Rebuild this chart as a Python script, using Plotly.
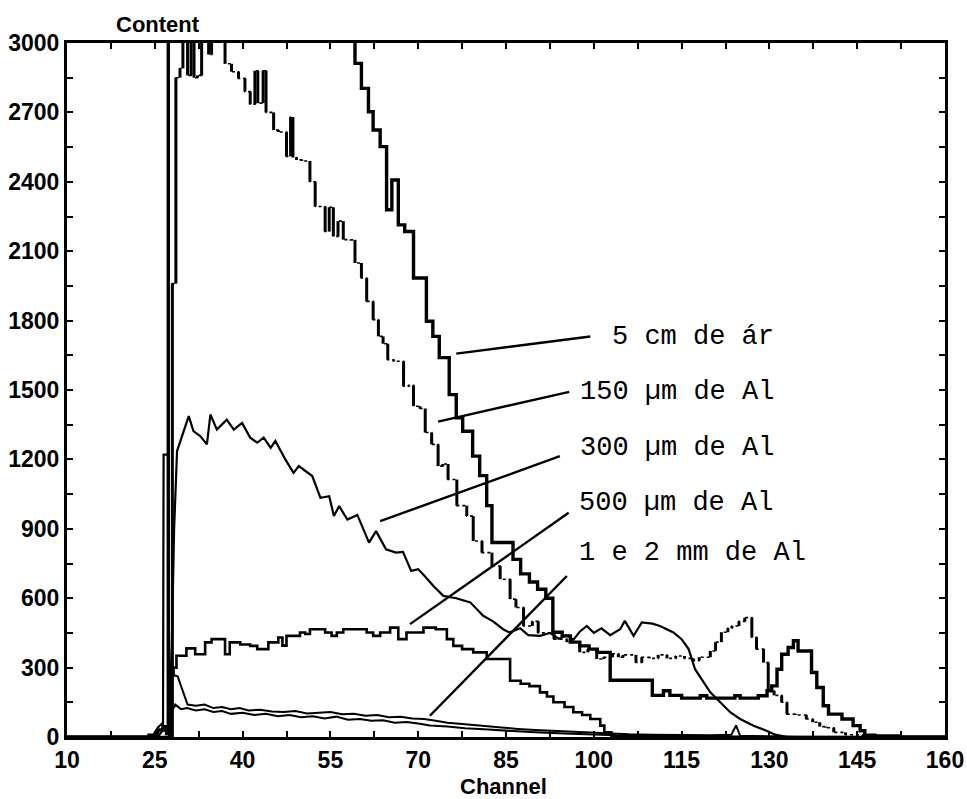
import plotly.graph_objects as go

# ---------------- data ----------------
# 5 cm de ár  (thick step histogram)
air_ch = [10, 24.0, 25.5, 26.4, 27.0, 27.3, 59.2, 60.3, 61.5, 62.3, 63.5, 64.6, 65.5, 66.6, 67.7,
          69.2, 71.4, 72.5, 73.6, 75.3, 76.5, 77.6, 79.3, 80.5, 81.7, 82.6, 86.2, 87.5, 89.0, 90.4,
          91.8, 93.0, 94.6, 96.0, 97.6, 99.2, 100.6, 102.8, 110.0, 111.9, 113.0, 115.0, 118.2, 119.3,
          124.1, 125.0, 128.1, 129.6, 130.4, 131.3, 132.1, 133.2, 134.1, 134.9, 137.2, 138.1, 139.2,
          140.1, 142.4, 144.3, 145.5, 146.3, 148.0, 152.0, 160.0]
air_cnt = [0, 8, 30, 45, 15, 3300, 2912, 2804, 2703, 2624, 2552, 2279, 2408, 2214, 2185,
           1984, 1797, 1732, 1640, 1480, 1380, 1322, 1214, 1130, 1000, 841, 768, 705, 670, 639,
           600, 453, 437, 410, 394, 380, 366, 245, 180, 200, 180, 168, 178, 168,
           178, 168, 178, 200, 221, 293, 358, 387, 416, 372, 279, 214, 135,
           99, 78, 49, 27, 8, 5, 0, 0]

# 150 um de Al (dashed step histogram)
al150_ch = [10, 27.6, 28.0, 28.6, 29.3, 29.8, 30.6, 31.2, 31.7, 32.3, 33.0, 34.2, 34.7, 37.0, 38.1,
            39.3, 40.4, 41.3, 42.1, 42.6, 43.5, 44.0, 45.3, 46.1, 47.5, 48.2, 48.6, 49.2, 50.1, 51.5,
            52.4, 54.1, 54.8, 55.5, 56.3, 57.2, 58.4, 59.2, 60.3, 61.2, 62.3, 63.2, 64.0, 64.8, 65.8,
            67.5, 68.4, 69.2, 70.3, 71.2, 72.3, 73.4, 74.2, 75.1, 76.6, 78.3, 79.4, 80.9, 82.6, 84.0,
            85.7, 86.7, 88.0, 89.5, 90.5, 93.2, 95.4, 97.6, 99.0, 100.5, 101.7, 103.2, 104.2, 105.0,
            107.2, 108.2, 109.5, 111.0, 112.5, 114.0, 115.5, 117.0, 118.0, 119.9, 120.8, 121.8, 122.9,
            123.6, 124.8, 125.8, 127.0, 127.8, 129.0, 129.8, 130.8, 132.1, 133.0, 134.5, 136.3, 137.4,
            138.6, 139.7, 141.0, 143.0, 146.0, 160.0]
al150_cnt = [0, 0, 1960, 2850, 2890, 3100, 2860, 3100, 2850, 2860, 3100, 2950, 3100, 2910, 2876,
             2847, 2790, 2735, 2880, 2740, 2880, 2700, 2624, 2615, 2510, 2680, 2505, 2495, 2490, 2400,
             2293, 2185, 2290, 2164, 2230, 2150, 2149, 2049, 1984, 1883, 1804, 1732, 1700, 1631, 1624,
             1516, 1520, 1430, 1420, 1316, 1265, 1171, 1180, 1113, 1000, 955, 847, 797, 739, 682,
             596, 560, 480, 500, 450, 423, 410, 366, 380, 337, 345, 360, 345, 355,
             322, 345, 340, 355, 340, 350, 340, 330, 345, 372, 410, 453, 470,
             480, 500, 516, 431, 380, 322, 200, 180, 150, 99, 95, 78, 64,
             45, 40, 20, 10, 0, 0]

# 300 um de Al (thin polyline)
al300_ch = [10, 25.5, 26.4, 26.5, 27.3, 27.4, 27.9, 28.3, 28.8, 29.6, 30.8, 31.6, 32.8, 33.9, 34.5,
            35.6, 37.3, 38.5, 39.9, 41.3, 42.5, 43.6, 44.8, 45.6, 47.3, 48.7, 49.6, 51.9, 53.3, 54.8,
            55.6, 56.5, 57.9, 59.6, 61.6, 62.8, 64.5, 66.2, 67.4, 68.8, 70.0, 71.1, 72.6, 74.3, 76.5,
            78.9, 81.1, 82.8, 84.5, 85.6, 87.4, 88.8, 90.8, 92.5, 94.0, 95.4, 96.5, 97.6, 98.8, 100.0,
            101.3, 102.8, 104.5, 105.3, 106.8, 108.2, 110.0, 111.3, 113.6, 115.0, 116.2, 117.3, 118.7,
            119.9, 121.6, 123.3, 125.0, 127.3, 129.5, 131.0, 133.0, 160.0]
al300_cnt = [0, 0, 30, 1221, 1221, 60, 400, 900, 1236, 1300, 1387, 1322, 1300, 1265, 1394,
             1329, 1372, 1329, 1358, 1294, 1272, 1294, 1250, 1280, 1200, 1142, 1171, 1128, 1034, 1041,
             955, 998, 940, 960, 840, 890, 811, 797, 800, 718, 725, 696, 653, 610, 600,
             582, 524, 500, 466, 452, 470, 440, 437, 450, 425, 440, 420, 455, 480, 450,
             470, 440, 466, 502, 437, 495, 490, 480, 452, 423, 380, 293, 236,
             193, 150, 107, 78, 49, 27, 10, 0, 0]

# 500 um de Al (step histogram)
al500_ch = [10, 27.5, 27.9, 28.2, 28.7, 30.4, 31.9, 33.6, 34.7, 37.0, 37.8, 39.6, 41.3, 42.5, 44.4,
            46.1, 46.8, 47.5, 49.8, 50.7, 51.5, 52.4, 54.1, 55.2, 56.1, 57.2, 58.9, 61.2, 62.3, 63.5,
            65.2, 66.6, 68.0, 70.9, 73.0, 74.9, 76.0, 77.5, 79.4, 81.7, 85.7, 87.5, 89.0, 90.8, 92.0,
            93.1, 95.0, 96.5, 98.0, 99.4, 101.1, 101.8, 103.0, 160.0]
al500_cnt = [0, 150, 265, 300, 351, 383, 358, 409, 423, 358, 409, 400, 394, 380, 409,
             430, 395, 437, 452, 445, 466, 466, 452, 437, 452, 466, 466, 452, 437, 452,
             473, 423, 452, 473, 466, 423, 394, 380, 366, 337, 243, 230, 220, 193, 175,
             150, 130, 107, 95, 78, 49, 20, 0, 0]

# 1 mm de Al
al1mm_ch = [10, 24.5, 25.5, 26.3, 27.0, 27.6, 28.0, 28.9, 30.6, 32.0, 33.5, 35.0, 36.5, 38.0, 39.5,
            41.0, 43.0, 45.0, 47.0, 49.0, 51.0, 53.0, 55.0, 57.0, 59.0, 61.0, 63.0, 65.0, 67.0, 69.0,
            71.0, 73.0, 75.0, 78.0, 81.0, 84.0, 87.0, 90.0, 94.0, 98.0, 102.0, 106.0, 110.0, 115.0,
            120.0, 123.5, 124.3, 125.0, 128.0, 135.0, 160.0]
al1mm_cnt = [0, 0, 40, 60, 20, 60, 270, 262, 140, 135, 140, 125, 130, 120, 125,
             115, 118, 110, 108, 112, 102, 105, 108, 98, 100, 92, 95, 85, 88, 80,
             78, 70, 62, 55, 48, 40, 35, 30, 25, 20, 15, 12, 10, 8,
             8, 10, 50, 5, 3, 0, 0]

# 2 mm de Al
al2mm_ch = [10, 27.5, 27.9, 28.5, 29.5, 30.5, 32.0, 33.5, 35.0, 36.5, 38.0, 40.0, 42.0, 44.0, 46.0,
            48.0, 50.0, 52.0, 54.0, 56.0, 58.0, 60.0, 62.0, 64.0, 66.0, 68.0, 70.0, 72.0, 75.0, 78.0,
            82.0, 86.0, 90.0, 95.0, 100.0, 105.0, 110.0, 120.0, 160.0]
al2mm_cnt = [0, 0, 110, 140, 120, 125, 115, 120, 108, 112, 100, 105, 95, 100, 90,
             95, 85, 90, 80, 88, 75, 78, 70, 72, 62, 65, 58, 50, 45, 38,
             32, 25, 20, 15, 10, 6, 4, 2, 0]

# labels and pointer lines (label anchor on the curve, label end)
labels = ["5 cm de ár", "150 µm de Al", "300 µm de Al", "500 µm de Al", "1 e 2 mm de Al"]
label_x = [0.6185, 0.582, 0.582, 0.581, 0.581]          # paper coords (left of text)
label_y = [0.5764, 0.4971, 0.4164, 0.3372, 0.2651]       # paper coords (middle of text)
ptr_x0 = [99.4, 95.8, 94.2, 95.7, 95.4]
ptr_y0 = [1731, 1492, 1214, 969, 696]
ptr_x1 = [76.5, 73.4, 63.5, 68.6, 72.0]
ptr_y1 = [1657, 1363, 933, 488, 92]

x_major = [10, 25, 40, 55, 70, 85, 100, 115, 130, 145, 160]
x_major_text = ["10", "25", "40", "55", "70", "85", "100", "115", "130", "145", "160"]
y_major = [0, 300, 600, 900, 1200, 1500, 1800, 2100, 2400, 2700, 3000]
y_major_text = ["0", "300", "600", "900", "1200", "1500", "1800", "2100", "2400", "2700", "3000"]

for a, b in [(air_ch, air_cnt), (al150_ch, al150_cnt), (al300_ch, al300_cnt),
             (al500_ch, al500_cnt), (al1mm_ch, al1mm_cnt), (al2mm_ch, al2mm_cnt)]:
    assert len(a) == len(b), (len(a), len(b))

# ---------------- figure ----------------
fig = go.Figure()


def add(x, y, width, shape="linear", dash="solid"):
    fig.add_trace(go.Scatter(x=x, y=y, mode="lines", showlegend=False, hoverinfo="skip",
                             line=dict(color="black", width=width, shape=shape, dash=dash)))


add(al2mm_ch, al2mm_cnt, 2)
add(al1mm_ch, al1mm_cnt, 2)
add(al500_ch, al500_cnt, 2.6, shape="hv")
add(al300_ch, al300_cnt, 2.2)
# 150 um: faint dotted horizontals + solid vertical risers
add(al150_ch, al150_cnt, 1.6, shape="hv", dash="dot")
vx, vy = [], []
for i in range(1, len(al150_ch)):
    vx += [al150_ch[i], al150_ch[i], None]
    vy += [al150_cnt[i - 1], al150_cnt[i], None]
add(vx, vy, 3)
add(air_ch, air_cnt, 3.4, shape="hv")

for i in range(len(labels)):
    fig.add_shape(type="line", xref="x", yref="y", x0=ptr_x0[i], y0=ptr_y0[i],
                  x1=ptr_x1[i], y1=ptr_y1[i], line=dict(color="black", width=2.4))
    fig.add_annotation(text=labels[i], xref="paper", yref="paper", x=label_x[i], y=label_y[i],
                       xanchor="left", yanchor="middle", showarrow=False,
                       font=dict(family="Liberation Mono, Courier New, monospace", size=27,
                                 color="black"))

bold_font = "Liberation Sans, Arial, sans-serif"
fig.add_annotation(text="Content", xref="paper", yref="paper", x=0.1036, y=1.026,
                   xanchor="center", yanchor="middle", showarrow=False,
                   font=dict(family=bold_font, size=22, color="black", weight="bold"))
fig.add_annotation(text="Channel", xref="paper", yref="paper", x=0.4966, y=-0.072,
                   xanchor="center", yanchor="middle", showarrow=False,
                   font=dict(family=bold_font, size=22, color="black", weight="bold"))

x_tickvals = [10 + 7.5 * k for k in range(21)]
x_ticktext = [x_major_text[x_major.index(v)] if v in x_major else "" for v in x_tickvals]
y_tickvals = [150 * k for k in range(21)]
y_ticktext = [y_major_text[y_major.index(v)] if v in y_major else "" for v in y_tickvals]

axis_common = dict(showgrid=False, zeroline=False, showline=True, linecolor="black",
                   linewidth=3, mirror="ticks", ticks="inside", ticklen=6, tickwidth=2,
                   tickcolor="black", automargin=False,
                   tickfont=dict(family=bold_font, size=23, color="black", weight="bold"))

fig.update_xaxes(range=[9.999, 160.001], tickmode="array", tickvals=x_tickvals,
                 ticktext=x_ticktext, **axis_common)
fig.update_yaxes(range=[0, 3000], tickmode="array", tickvals=y_tickvals, ticktext=y_ticktext,
                 **axis_common)

fig.update_layout(width=967, height=799, margin=dict(l=67, r=22, t=43, b=62),
                  paper_bgcolor="white", plot_bgcolor="white")

fig.write_html("out.html")
